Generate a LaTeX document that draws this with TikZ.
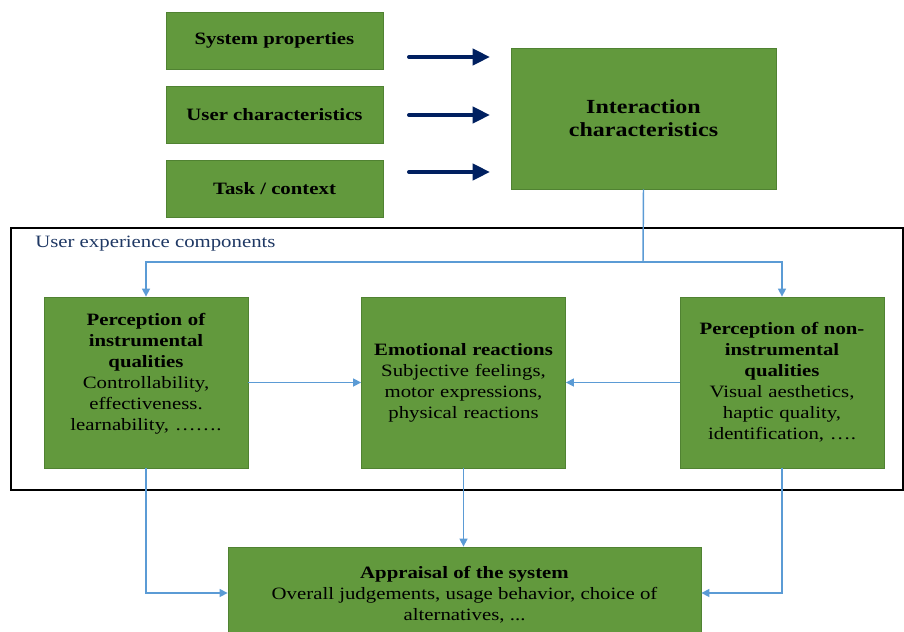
\documentclass[tikz,border=0pt]{standalone}
\usepackage{fontspec}
\setmainfont{Liberation Serif}[FakeStretch=1.2]
\usetikzlibrary{arrows.meta, positioning}
\definecolor{boxgreen}{RGB}{98,153,61}
\definecolor{edgegreen}{RGB}{80,130,50}
\definecolor{linkblue}{RGB}{91,155,213}
\definecolor{navy}{RGB}{0,32,96}
\definecolor{labelnavy}{RGB}{31,56,100}
\tikzset{
  block/.style={rectangle, draw=edgegreen, fill=boxgreen, align=center,
    font=\fontsize{13}{15.75}\selectfont, line width=0.6pt, inner sep=2pt},
  inbox/.style={block, minimum width=217*0.75pt, minimum height=57*0.75pt,
    font=\fontsize{13}{15.75}\selectfont\bfseries},
  uxbox/.style={block, minimum width=204*0.75pt, minimum height=171*0.75pt,
    text width=196*0.75pt},
  arrow/.style={-{Triangle[length=6pt,width=6pt]}, line width=1.1pt, color=linkblue},
  line/.style={line width=1.1pt, color=linkblue},
  bigarrow/.style={-{Triangle[length=13pt,width=12pt]}, line width=3pt,
    color=navy, line cap=round}
}
\begin{document}
\begin{tikzpicture}[x=0.75pt, y=-0.75pt]
  \clip (0,0) rectangle (904,632);
  \fill[white] (0,0) rectangle (904,632);

  % inputs
  \node[inbox] (sys) at (274.5,40.5) {System properties};
  \node[inbox] (usr) at (274.5,114.5) {User characteristics};
  \node[inbox] (task) at (274.5,188.5) {Task / context};
  \node[block, minimum width=265*0.75pt, minimum height=141*0.75pt,
    font=\fontsize{15}{17.25}\selectfont\bfseries] (inter) at (643.5,118.5)
    {Interaction\\characteristics};

  \coordinate (a1s) at (409,57);  \coordinate (a1e) at (490,57);
  \coordinate (a2s) at (409,115); \coordinate (a2e) at (490,115);
  \coordinate (a3s) at (409,172); \coordinate (a3e) at (490,172);
  \draw[bigarrow] (a1s) -- (a1e);
  \draw[bigarrow] (a2s) -- (a2e);
  \draw[bigarrow] (a3s) -- (a3e);

  % user experience components
  \draw[line width=1.5pt, black] (11,228) rectangle (903,490);
  \node[anchor=west, text=labelnavy, font=\fontsize{13}{15}\selectfont, inner sep=0pt]
    (uxlabel) at (35,244) {User experience components};

  \node[uxbox] (instr) at (146,382.5)
    {\textbf{Perception of}\\\textbf{instrumental}\\\textbf{qualities}\\
     Controllability,\\effectiveness.\\learnability, …….\\\mbox{}};
  \node[uxbox] (emo) at (463.5,382.5)
    {\textbf{Emotional reactions}\\Subjective feelings,\\motor expressions,\\physical reactions};
  \node[uxbox] (noninstr) at (782,382.5)
    {\textbf{Perception of non-}\\\textbf{instrumental}\\\textbf{qualities}\\
     Visual aesthetics,\\haptic quality,\\identification, ….};

  \node[block, minimum width=473*0.75pt, minimum height=96*0.75pt] (appr) at (464.5,595)
    {\textbf{Appraisal of the system}\\Overall judgements, usage behavior, choice of\\alternatives, ...};

  % connectors
  \coordinate (split) at (643,262);
  \draw[line] (inter.south) -- (split);
  \draw[arrow] (split) -| (instr.north);
  \draw[arrow] (split) -| (noninstr.north);
  \draw[arrow] (instr.east) -- (emo.west);
  \draw[arrow] (noninstr.west) -- (emo.east);
  \draw[arrow] (emo.south) -- (emo.south |- appr.north);
  \draw[arrow] (instr.south) |- (appr.west |- 0,593);
  \draw[arrow] (noninstr.south) |- (appr.east |- 0,593);
\end{tikzpicture}
\end{document}
